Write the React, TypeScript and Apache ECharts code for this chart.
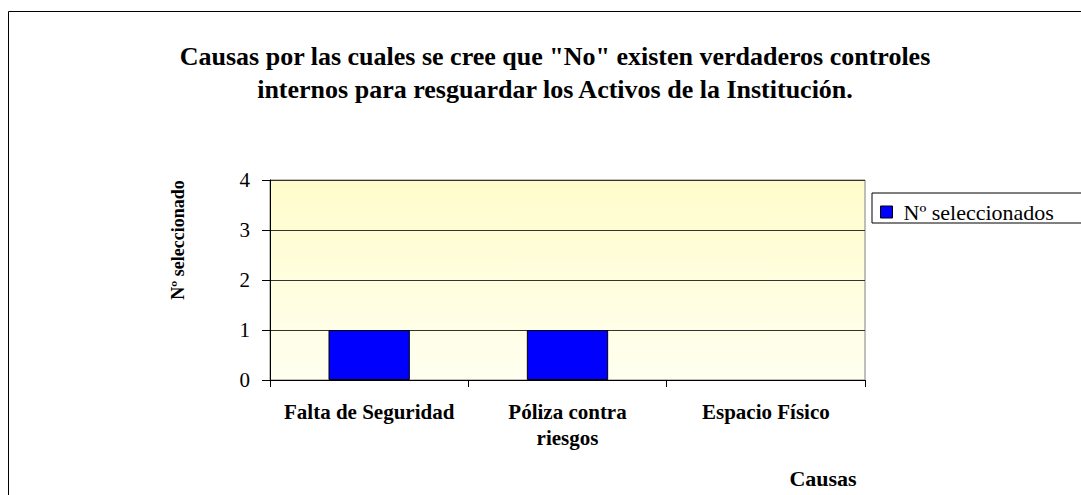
import React, { useEffect, useRef } from "react";
import * as echarts from "echarts";

const categories = ["Falta de Seguridad", "Póliza contra\nriesgos", "Espacio Físico"];
const values = [1, 1, 0];
const seriesName = "Nº seleccionados";
const titleLines = [
  'Causas por las cuales se cree que "No" existen verdaderos controles',
  "internos para resguardar los Activos de la Institución.",
];
const yAxisName = "Nº seleccionado";
const xAxisName = "Causas";

const FONT = '"Liberation Serif", "Times New Roman", serif';

export default function App() {
  const ref = useRef<HTMLDivElement>(null);
  useEffect(() => {
    const chart = echarts.init(ref.current!, null, { renderer: "svg" });
    chart.setOption({
      animation: false,
      backgroundColor: "#ffffff",
      textStyle: { fontFamily: FONT },
      title: {
        text: titleLines.join("\n"),
        left: 555,
        top: 40,
        textAlign: "center",
        padding: 0,
        textStyle: { fontFamily: FONT, fontSize: 26, fontWeight: "bold", color: "#000", lineHeight: 33 },
      },
      legend: {
        left: 872,
        top: 193,
        itemWidth: 12,
        itemHeight: 12,
        padding: [8, 80, 0, 8],
        borderColor: "#000",
        borderWidth: 1,
        icon: "rect",
        itemStyle: { borderColor: "#000", borderWidth: 1 },
        textStyle: { fontFamily: FONT, fontSize: 22, color: "#000", lineHeight: 19, padding: [0, 0, 0, 6] },
        data: [seriesName],
      },
      grid: {
        left: 270,
        top: 180,
        width: 595,
        height: 200,
        show: true,
        borderColor: "#808080",
        borderWidth: 1,
        backgroundColor: new echarts.graphic.LinearGradient(0, 0, 0, 1, [
          { offset: 0, color: "#FFFCCB" },
          { offset: 1, color: "#FFFFF0" },
        ]),
      },
      xAxis: {
        type: "category",
        data: categories,
        axisLine: { show: true, lineStyle: { color: "#000", width: 1 } },
        axisTick: { show: true, alignWithLabel: false, length: 7, inside: false, lineStyle: { color: "#000" } },
        axisLabel: {
          interval: 0,
          margin: 19,
          fontFamily: FONT,
          fontSize: 21,
          fontWeight: "bold",
          color: "#000",
          lineHeight: 26,
          verticalAlign: "top",
        },
        splitLine: { show: false },
      },
      yAxis: {
        type: "value",
        min: 0,
        max: 4,
        interval: 1,
        axisLine: { show: true, lineStyle: { color: "#000", width: 1 } },
        axisTick: { show: true, length: 8, lineStyle: { color: "#000" } },
        axisLabel: { fontFamily: FONT, fontSize: 21, color: "#000", margin: 20 },
        splitLine: { show: true, lineStyle: { color: "#333", width: 1 } },
      },
      series: [
        {
          name: seriesName,
          type: "bar",
          data: values.map((v) => (v === 0 ? { value: v, itemStyle: { borderWidth: 0 } } : v)),
          barWidth: "41%",
          itemStyle: { color: "#0000FF", borderColor: "#000", borderWidth: 1 },
        },
      ],
      graphic: [
        {
          type: "rect",
          shape: { x: 8.5, y: 11.5, width: 1100, height: 500 },
          style: { fill: "none", stroke: "#000", lineWidth: 1 },
          silent: true,
        },
        {
          type: "text",
          x: 178,
          y: 240,
          rotation: Math.PI / 2,
          style: {
            text: yAxisName,
            fontFamily: FONT,
            fontSize: 18,
            fontWeight: "bold",
            fill: "#000",
            align: "center",
            verticalAlign: "middle",
          },
        },
        {
          type: "text",
          x: 823,
          y: 478,
          style: {
            text: xAxisName,
            fontFamily: FONT,
            fontSize: 22,
            fontWeight: "bold",
            fill: "#000",
            align: "center",
            verticalAlign: "middle",
          },
        },
      ],
    });
    return () => chart.dispose();
  }, []);
  return (
    <div
      ref={ref}
      style={{ position: "fixed", left: 0, top: 0, width: 1081, height: 495 }}
    />
  );
}
